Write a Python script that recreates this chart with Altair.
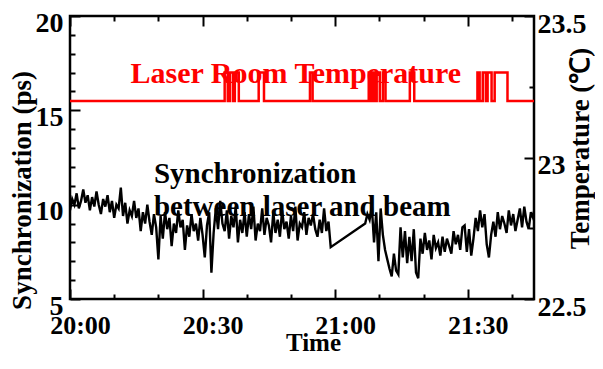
import altair as alt
import pandas as pd

# ---------------- data ----------------
sync_step = 0.5
sync_seg1_start = 0.0
sync_seg1 = [
    9.7, 10.3, 10.0, 10.6, 9.8, 10.2, 10.8, 10.1, 10.5, 9.7,
    10.4, 9.9, 10.7, 10.0, 9.5, 10.3, 9.9, 10.5, 9.6, 10.2,
    9.3, 10.0, 9.8, 10.9, 9.4, 10.1, 9.0, 9.7, 9.4, 10.2,
    9.3, 9.8, 8.6, 9.6, 9.0, 10.0, 9.1, 8.4, 9.5, 8.8,
    7.1, 9.4, 8.2, 9.6, 8.7, 9.3, 7.8, 9.0, 8.5, 9.7,
    8.8, 9.2, 7.6, 8.9, 8.3, 9.5, 8.6, 9.0, 8.1, 9.3,
    8.4, 7.2, 8.9, 9.6, 6.4, 8.5, 9.8, 8.7, 10.2, 9.0,
    8.6, 9.7, 8.2, 9.4, 8.8, 9.9, 8.0, 9.2, 8.5, 9.6,
    8.3, 9.5, 8.7, 9.9, 8.1, 9.0, 8.6, 9.8, 8.4, 9.3,
    8.9, 8.0, 9.6, 8.5, 9.2, 8.3, 9.7, 8.7, 9.1, 8.2,
    9.4, 8.6, 9.9, 8.1, 9.0, 8.8, 9.6, 8.4, 9.3, 8.9,
    9.5, 8.7, 8.3, 9.2, 8.5, 9.8, 8.6, 9.1, 7.75,
]
sync_seg2_start = 66.8
sync_seg2 = [
    9.0, 9.5,
    9.2, 9.9, 8.0, 9.6, 7.0, 9.8, 8.4, 7.6, 7.1, 6.6,
    6.2, 7.4, 6.5, 6.3, 8.8, 7.2, 8.6, 6.9, 8.3, 7.0,
    8.7, 6.4, 6.1, 8.2, 7.4, 8.5, 7.6, 8.1, 7.1, 8.4,
    7.7, 8.0, 7.3, 8.3, 7.5, 8.2, 7.8, 7.4, 8.6, 7.9,
    8.4, 7.6, 8.8, 8.9, 7.5, 8.7, 7.3, 8.2, 9.3, 8.6,
    9.7, 8.8, 9.5, 7.9, 7.2, 8.4, 9.1, 8.3, 9.6, 8.7,
    9.4, 9.0, 8.5, 9.7, 8.9, 9.5, 8.6, 9.2, 9.8, 8.8,
    9.9, 9.1, 8.7, 9.6, 9.3, 10.1,
]

temp_times = [0, 35.0, 35.7, 36.2, 36.9, 37.3, 38.2, 42.7, 43.9, 54.3, 54.9,
              67.6, 68.1, 68.5, 69.0, 69.4, 70.1, 70.8, 71.4, 76.9, 77.9,
              92.2, 92.7, 93.4, 94.1, 94.5, 95.4, 96.1, 99.0, 105]
temp_values = [23.2, 23.3, 23.2, 23.3, 23.2, 23.3, 23.2, 23.3, 23.2, 23.3, 23.2,
               23.3, 23.2, 23.3, 23.2, 23.3, 23.2, 23.3, 23.2, 23.3, 23.2,
               23.3, 23.2, 23.3, 23.2, 23.3, 23.2, 23.3, 23.2, 23.2]

x_domain = [0, 105]
y_left_domain = [5, 20]
y_right_domain = [22.5, 23.5]

x_major = [0, 30, 60, 90]
x_labels = ["20:00", "20:30", "21:00", "21:30"]
x_minor = [10, 20, 40, 50, 70, 80, 100]
y_left_major = [5, 10, 15, 20]
y_left_minor = [6, 7, 8, 9, 11, 12, 13, 14, 16, 17, 18, 19]
y_right_major = [22.5, 23.0, 23.5]
y_right_labels = ["22.5", "23", "23.5"]
y_right_minor = [22.75, 23.25]

x_title = "Time"
y_left_title = "Synchronization (ps)"
y_right_title = "Temperature (℃)"

red_texts = ["Laser Room Temperature"]
red_text_x = [51.1]
red_text_y = [16.9]
black_texts = ["Synchronization", "between laser and beam"]
black_text_x = [19.0, 19.0]
black_text_y = [11.65, 9.9]

FONT = "Liberation Serif, Times New Roman, serif"
LABEL_SIZE = 28
TITLE_SIZE = 27

# ---------------- frames ----------------
t1 = [sync_seg1_start + sync_step * i for i in range(len(sync_seg1))]
t2 = [sync_seg2_start + sync_step * i for i in range(len(sync_seg2))]
sync_df = pd.DataFrame({"t": t1 + t2, "v": sync_seg1 + sync_seg2})
sync_df["i"] = range(len(sync_df))
temp_df = pd.DataFrame({"t": temp_times, "T": temp_values})
temp_df["i"] = range(len(temp_df))
red_df = pd.DataFrame({"t": red_text_x, "v": red_text_y, "s": red_texts})
black_df = pd.DataFrame({"t": black_text_x, "v": black_text_y, "s": black_texts})
dummy_df = pd.DataFrame({"t": [0.0], "v": [5.0], "T": [22.5]})


def label_expr(values, labels):
    expr = "''"
    for val, lab in reversed(list(zip(values, labels))):
        expr = f"(abs(datum.value - {val}) < 1e-6 ? '{lab}' : {expr})"
    return expr


def xs():
    return alt.Scale(domain=x_domain, nice=False, zero=False)


def yls():
    return alt.Scale(domain=y_left_domain, nice=False, zero=False)


def yrs():
    return alt.Scale(domain=y_right_domain, nice=False, zero=False)


font_kw = dict(labelFont=FONT, labelFontWeight="bold", labelFontSize=LABEL_SIZE, labelColor="black",
               titleFont=FONT, titleFontWeight="bold", titleFontSize=TITLE_SIZE, titleColor="black")

black_line = alt.Chart(sync_df).mark_line(color="black", strokeWidth=2.4, clip=True).encode(
    x=alt.X("t:Q", scale=xs(), axis=alt.Axis(
        orient="bottom", values=x_major, labelExpr=label_expr(x_major, x_labels),
        ticks=False, domain=False, grid=False, labelPadding=13, labelOffset=10,
        labelFlush=False, labelOverlap=False,
        title=x_title, titleX=243, titleY=51, titleBaseline="alphabetic", titleAlign="center",
        **dict(font_kw, labelFontSize=26, titleFontSize=25))),
    y=alt.Y("v:Q", scale=yls(), axis=alt.Axis(
        orient="left", values=y_left_major, ticks=False, domain=False, grid=False,
        labelPadding=7, labelOffset=7, labelFlush=False, labelOverlap=False,
        title=y_left_title, titleAngle=270, titleX=-48, titleY=174,
        titleAlign="center", titleBaseline="middle", **font_kw)),
    order="i:Q",
)

red_line = alt.Chart(temp_df).mark_line(color="#ff0000", strokeWidth=2.5,
                                        interpolate="step-after", clip=True).encode(
    x=alt.X("t:Q", scale=xs(), axis=None),
    y=alt.Y("T:Q", scale=yrs(), axis=alt.Axis(
        orient="right", values=y_right_major, labelExpr=label_expr(y_right_major, y_right_labels),
        ticks=False, domain=False, grid=False, labelPadding=3, labelOffset=8,
        labelFlush=False, labelOverlap=False,
        title=y_right_title, titleAngle=270, titleX=46, titleY=132,
        titleAlign="center", titleBaseline="middle", **font_kw)),
    order="i:Q",
)


def tick_layer(x_orient, x_vals, y_orient, y_vals, yfield, yscale, size):
    return alt.Chart(dummy_df).mark_point(opacity=0).encode(
        x=alt.X("t:Q", scale=xs(), axis=alt.Axis(
            orient=x_orient, values=x_vals, labels=False, domain=False, grid=False,
            ticks=True, tickSize=size, offset=-size, tickWidth=2, tickColor="black", title=None)),
        y=alt.Y(f"{yfield}:Q", scale=yscale, axis=alt.Axis(
            orient=y_orient, values=y_vals, labels=False, domain=False, grid=False,
            ticks=True, tickSize=size, offset=-size, tickWidth=2, tickColor="black", title=None)),
    )


ticks_a = tick_layer("bottom", x_major, "left", y_left_major, "v", yls(), 10)
ticks_b = tick_layer("bottom", x_minor, "left", y_left_minor, "v", yls(), 5)
ticks_c = tick_layer("top", x_major, "right", y_right_major, "T", yrs(), 10)
ticks_d = tick_layer("top", x_minor, "right", y_right_minor, "T", yrs(), 5)

red_text = alt.Chart(red_df).mark_text(
    font=FONT, fontWeight="bold", fontSize=30, color="#ff0000", align="center", baseline="middle"
).encode(
    x=alt.X("t:Q", scale=xs(), axis=None),
    y=alt.Y("v:Q", scale=yls(), axis=None),
    text="s:N",
)
black_text = alt.Chart(black_df).mark_text(
    font=FONT, fontWeight="bold", fontSize=29, color="black", align="left", baseline="middle"
).encode(
    x=alt.X("t:Q", scale=xs(), axis=None),
    y=alt.Y("v:Q", scale=yls(), axis=None),
    text="s:N",
)

chart = alt.layer(
    red_text, black_text, ticks_a, ticks_b, ticks_c, ticks_d, red_line, black_line
).resolve_scale(x="independent", y="independent").properties(
    width=464, height=283,
    autosize=alt.AutoSizeParams(type="none"),
    padding={"left": 62, "top": 8, "right": 61, "bottom": 57},
).configure(
    font=FONT
).configure_view(
    stroke="black", strokeWidth=2.5
).configure_axis(
    labelFont=FONT, labelFontWeight="bold", labelFontSize=LABEL_SIZE, labelColor="black",
    titleFont=FONT, titleFontWeight="bold", titleFontSize=TITLE_SIZE, titleColor="black",
)

chart.save("out.html", embed_options={"renderer": "svg", "actions": False})
